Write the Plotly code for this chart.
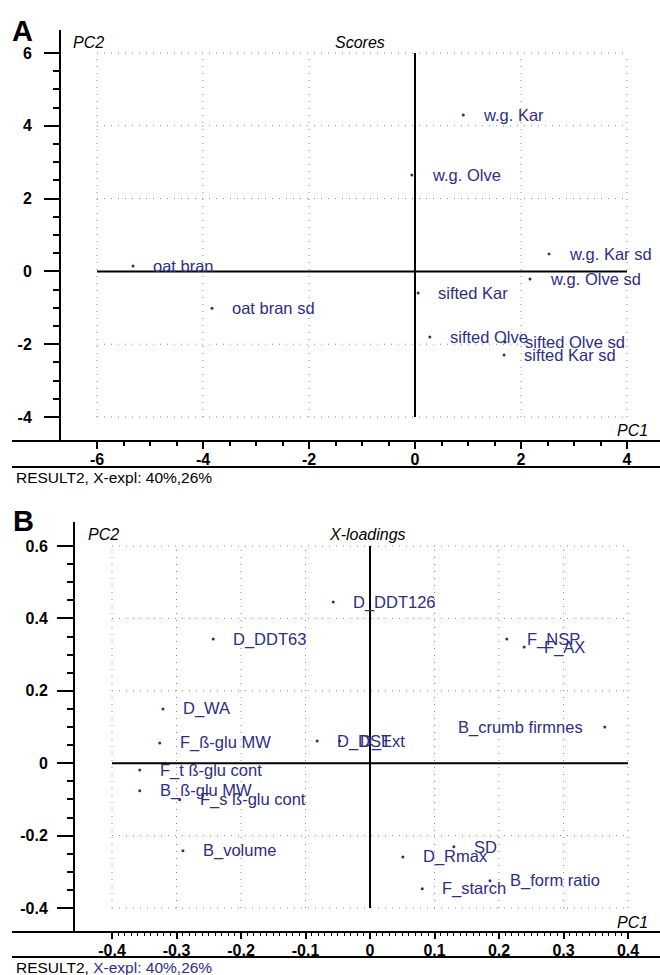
import plotly.graph_objects as go

# ---------------- data ----------------
score_names = ["w.g. Kar", "w.g. Olve", "w.g. Kar sd", "w.g. Olve sd", "sifted Kar",
               "sifted Olve", "sifted Olve sd", "sifted Kar sd", "oat bran", "oat bran sd"]
score_pc1 = [0.91, -0.06, 2.53, 2.17, 0.06, 0.28, 1.70, 1.68, -5.32, -3.83]
score_pc2 = [4.30, 2.65, 0.48, -0.21, -0.59, -1.80, -1.94, -2.30, 0.15, -1.01]

load_names = ["D_DDT126", "D_DDT63", "F_NSP", "F_AX", "D_WA", "B_crumb firmnes",
              "F_ß-glu MW", "D_DST", "D_Ext", "F_t ß-glu cont", "B_ß-glu MW",
              "F_s ß-glu cont", "B_volume", "SD", "D_Rmax", "F_starch", "B_form ratio"]
load_pc1 = [-0.057, -0.243, 0.212, 0.239, -0.321, 0.364, -0.326, -0.082, -0.047,
            -0.357, -0.357, -0.295, -0.290, 0.130, 0.051, 0.081, 0.186]
load_pc2 = [0.445, 0.343, 0.343, 0.321, 0.150, 0.100, 0.056, 0.061, 0.061,
            -0.019, -0.076, -0.101, -0.242, -0.231, -0.259, -0.347, -0.325]

a_xticks = [-6, -4, -2, 0, 2, 4]
a_yticks = [-4, -2, 0, 2, 4, 6]
b_xticks = [-0.4, -0.3, -0.2, -0.1, 0, 0.1, 0.2, 0.3, 0.4]
b_xticklabels = ["-0.4", "-0.3", "-0.2", "-0.1", "0", "0.1", "0.2", "0.3", "0.4"]
b_yticks = [-0.4, -0.2, 0, 0.2, 0.4, 0.6]
b_yticklabels = ["-0.4", "-0.2", "0", "0.2", "0.4", "0.6"]

# ---------------- styling ----------------
W, H = 660, 975
NAVY = "#2d2d8a"
GRID = "#8a8a8a"
TICKFONT = dict(family="Liberation Sans Narrow, Liberation Sans, Arial", size=16, color="black",
                weight="bold")
LABELFONT = dict(family="Liberation Sans, Arial", size=16.5, color=NAVY)
ITAL = dict(family="Liberation Sans, Arial", size=16, color="black")


def px(x):
    return x / W


def py(y):
    return 1 - y / H


fig = go.Figure()

fig.add_trace(go.Scatter(x=score_pc1, y=score_pc2, mode="markers", xaxis="x", yaxis="y",
                         marker=dict(size=3, color=NAVY), hoverinfo="skip", cliponaxis=False))
fig.add_trace(go.Scatter(x=load_pc1, y=load_pc2, mode="markers", xaxis="x2", yaxis="y2",
                         marker=dict(size=3, color=NAVY), hoverinfo="skip", cliponaxis=False))

annotations = []
for n, x, y in zip(score_names, score_pc1, score_pc2):
    annotations.append(dict(x=x, y=y, xref="x", yref="y", text=n, showarrow=False,
                            xanchor="left", yanchor="middle", xshift=18, font=LABELFONT))
for n, x, y in zip(load_names, load_pc1, load_pc2):
    if n == "B_crumb firmnes":
        annotations.append(dict(x=x, y=y, xref="x2", yref="y2", text=n, showarrow=False,
                                xanchor="right", yanchor="middle", xshift=-20, font=LABELFONT))
    else:
        annotations.append(dict(x=x, y=y, xref="x2", yref="y2", text=n, showarrow=False,
                                xanchor="left", yanchor="middle", xshift=18, font=LABELFONT))


def ptext(x, y, text, font, xanchor="left", yanchor="middle"):
    annotations.append(dict(x=px(x), y=py(y), xref="paper", yref="paper", text=text,
                            showarrow=False, xanchor=xanchor, yanchor=yanchor, font=font))


BIG = dict(family="Liberation Sans, Arial", size=29, color="black")
ptext(10, 31, "<b>A</b>", BIG)
ptext(11, 521, "<b>B</b>", BIG)
ptext(71, 43, "<i>PC2</i>", ITAL)
ptext(333, 42, "<i>Scores</i>", ITAL)
ptext(650, 430, "<i>PC1</i>", ITAL, xanchor="right")
ptext(86, 534, "<i>PC2</i>", ITAL)
ptext(327, 534, "<i>X-loadings</i>", ITAL)
ptext(650, 922, "<i>PC1</i>", ITAL, xanchor="right")
FOOT = dict(family="Liberation Sans, Arial", size=15.5, color="black")
ptext(14, 478, "RESULT2, X-expl: 40%,26%", FOOT)
ptext(14, 967, "RESULT2, <span style='color:%s'>X-expl: 40%%,26%%</span>" % NAVY, FOOT)

shapes = []
DOT = dict(color=GRID, width=1, dash="1px,6px")
for gx in a_xticks:
    if gx != 0:
        shapes.append(dict(type="line", xref="x", yref="y", x0=gx, x1=gx, y0=-4, y1=6, line=DOT))
for gy in a_yticks:
    if gy != 0:
        shapes.append(dict(type="line", xref="x", yref="y", x0=-6, x1=4, y0=gy, y1=gy, line=DOT))
shapes.append(dict(type="line", xref="x", yref="y", x0=0, x1=0, y0=-4, y1=6,
                   line=dict(color="black", width=2)))
shapes.append(dict(type="line", xref="x", yref="y", x0=-6, x1=4, y0=0, y1=0,
                   line=dict(color="black", width=2)))
for gx in b_xticks:
    if gx != 0:
        shapes.append(dict(type="line", xref="x2", yref="y2", x0=gx, x1=gx, y0=-0.4, y1=0.6, line=DOT))
for gy in b_yticks:
    if gy != 0:
        shapes.append(dict(type="line", xref="x2", yref="y2", x0=-0.4, x1=0.4, y0=gy, y1=gy, line=DOT))
shapes.append(dict(type="line", xref="x2", yref="y2", x0=0, x1=0, y0=-0.4, y1=0.6,
                   line=dict(color="black", width=2)))
shapes.append(dict(type="line", xref="x2", yref="y2", x0=-0.4, x1=0.4, y0=0, y1=0,
                   line=dict(color="black", width=2)))


def pline(x0, y0, x1, y1, w=2):
    shapes.append(dict(type="line", xref="paper", yref="paper", x0=px(x0), x1=px(x1),
                       y0=py(y0), y1=py(y1), line=dict(color="black", width=w)))


pline(60, 30, 60, 441)
pline(12, 441, 660, 441)
pline(12, 467, 660, 467)
pline(74, 522, 74, 932)
pline(12, 932, 660, 932)
pline(12, 957, 660, 957)


def axis_common():
    return dict(showgrid=False, zeroline=False, showline=False, ticks="outside",
                tickcolor="black", tickfont=TICKFONT, fixedrange=True)


# panel A: 53 px/unit in x, zero at 415 px ; 36.4 px/unit in y, zero at 271.4 px
xa = axis_common()
xa.update(domain=[px(60), 1], range=[(60 - 415) / 53, (660 - 415) / 53], anchor="y",
          tickmode="array", tickvals=a_xticks, ticktext=[str(v) for v in a_xticks],
          ticklen=7, tickwidth=2, ticklabelstandoff=-3,
          minor=dict(tickmode="array", tickvals=[v / 2 for v in range(-12, 9)],
                     ticklen=4, tickwidth=1.5, tickcolor="black", ticks="outside"))
ya = axis_common()
ya.update(domain=[py(441), py(30)], range=[(271.4 - 441) / 36.4, (271.4 - 30) / 36.4],
          anchor="x", tickmode="array", tickvals=a_yticks, ticktext=[str(v) for v in a_yticks],
          ticklen=15, tickwidth=2, ticklabelstandoff=9,
          minor=dict(tickmode="array", tickvals=[v / 2 for v in range(-8, 13)],
                     ticklen=6, tickwidth=1.5, tickcolor="black", ticks="outside"))

# panel B: 645 px/unit x, zero at 370 ; 362 px/unit y, zero at 763.2
xb = axis_common()
xb.update(domain=[px(74), 1], range=[(74 - 370) / 645, (660 - 370) / 645], anchor="y2",
          tickmode="array", tickvals=b_xticks, ticktext=b_xticklabels,
          ticklen=6, tickwidth=2, ticklabelstandoff=-2,
          minor=dict(tickmode="array", tickvals=[v / 100 for v in range(-40, 41)],
                     ticklen=3, tickwidth=1, tickcolor="black", ticks="outside"))
yb = axis_common()
yb.update(domain=[py(932), py(522)], range=[(763.2 - 932) / 362, (763.2 - 522) / 362],
          anchor="x2", tickmode="array", tickvals=b_yticks, ticktext=b_yticklabels,
          ticklen=16, tickwidth=2, ticklabelstandoff=6,
          minor=dict(tickmode="array", tickvals=[v / 20 for v in range(-8, 13)],
                     ticklen=6, tickwidth=1.5, tickcolor="black", ticks="outside"))

fig.update_layout(
    width=W, height=H, autosize=False,
    margin=dict(l=0, r=0, t=0, b=0, pad=0),
    paper_bgcolor="white", plot_bgcolor="white",
    showlegend=False,
    xaxis=xa, yaxis=ya, xaxis2=xb, yaxis2=yb,
    shapes=shapes, annotations=annotations,
    font=dict(family="Liberation Sans, Arial"),
)

fig.write_html("out.html", config={"displayModeBar": False},
               post_script="document.body.style.margin='0';document.body.style.overflow='hidden';")
